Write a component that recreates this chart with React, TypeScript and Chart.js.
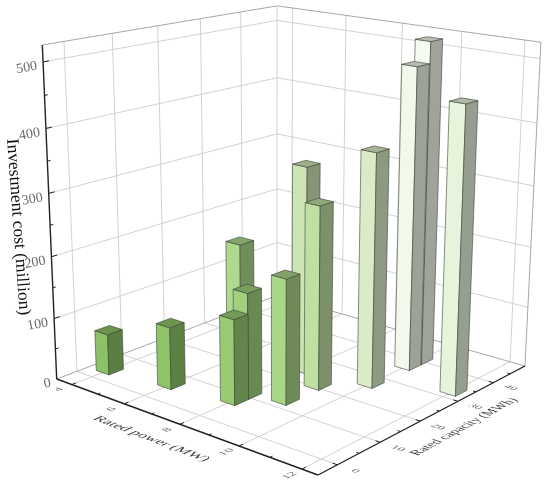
import React, { useEffect, useRef } from "react";
import { Chart, registerables } from "chart.js";

Chart.register(...registerables);

const power = [4, 6, 8, 8, 7, 9, 9, 8, 10, 10, 10, 12];
const capacity = [3.9, 6, 7.8, 10.9, 15.8, 13, 20.9, 24.9, 27, 37, 40.4, 33];
const cost = [67, 101, 137, 170, 222, 200, 295, 337, 375, 490, 524, 456];

const powerTicks = [4, 6, 8, 10, 12];
const powerMinor = [5, 7, 9, 11];
const capacityTicks = [0, 10, 20, 30, 40];
const capacityMinor = [5, 15, 25, 35, 45];
const costTicks = [0, 100, 200, 300, 400, 500];
const costMinor = [50, 150, 250, 350, 450];

const costStops = [0, 100, 200, 300, 375, 456, 500];
const stopColors = [
  [133, 188, 95],
  [143, 196, 105],
  [170, 215, 135],
  [192, 224, 163],
  [218, 235, 200],
  [231, 244, 220],
  [245, 251, 238],
];

const barPowerWidth = 0.5;
const barCapacityWidth = 3.2;

type Pt = [number, number];
const cornerO: Pt = [56.7, 379];
const cornerX: Pt = [318, 475];
const cornerXY: Pt = [525, 366];
const cornerY: Pt = [277, 295.5];
const vanish: Pt = [275, 5451];
const topLeftY = 45;

function makeProjection() {
  const dx1 = cornerX[0] - cornerXY[0];
  const dx2 = cornerY[0] - cornerXY[0];
  const sx = cornerO[0] - cornerX[0] + cornerXY[0] - cornerY[0];
  const dy1 = cornerX[1] - cornerXY[1];
  const dy2 = cornerY[1] - cornerXY[1];
  const sy = cornerO[1] - cornerX[1] + cornerXY[1] - cornerY[1];
  const det = dx1 * dy2 - dx2 * dy1;
  const g = (sx * dy2 - dx2 * sy) / det;
  const h = (dx1 * sy - sx * dy1) / det;
  const a = cornerX[0] - cornerO[0] + g * cornerX[0];
  const b = cornerY[0] - cornerO[0] + h * cornerY[0];
  const d = cornerX[1] - cornerO[1] + g * cornerX[1];
  const e = cornerY[1] - cornerO[1] + h * cornerY[1];
  const k = (topLeftY - cornerO[1]) / (vanish[1] - topLeftY);
  const m = vanish[0] * k;
  const n = vanish[1] * k;
  return (u: number, v: number, w: number): Pt => {
    const den = g * u + h * v + k * w + 1;
    return [
      (a * u + b * v + m * w + cornerO[0]) / den,
      (d * u + e * v + n * w + cornerO[1]) / den,
    ];
  };
}
const project = makeProjection();

function colorFor(c: number): number[] {
  let i = 0;
  while (i < costStops.length - 2 && c > costStops[i + 1]) i++;
  const t = Math.min(1, (c - costStops[i]) / (costStops[i + 1] - costStops[i]));
  return stopColors[i].map((s, j) => s + (stopColors[i + 1][j] - s) * t);
}
const rgb = (c: number[], f: number) =>
  `rgb(${Math.round(c[0] * f)},${Math.round(c[1] * f)},${Math.round(c[2] * f)})`;

function line(ctx: CanvasRenderingContext2D, a: Pt, b: Pt, color: string, width: number) {
  ctx.strokeStyle = color;
  ctx.lineWidth = width;
  ctx.beginPath();
  ctx.moveTo(a[0], a[1]);
  ctx.lineTo(b[0], b[1]);
  ctx.stroke();
}

function face(ctx: CanvasRenderingContext2D, pts: Pt[], fill: string) {
  ctx.fillStyle = fill;
  ctx.strokeStyle = "rgba(60,65,55,0.75)";
  ctx.lineWidth = 0.8;
  ctx.lineJoin = "round";
  ctx.beginPath();
  pts.forEach((p, i) => (i ? ctx.lineTo(p[0], p[1]) : ctx.moveTo(p[0], p[1])));
  ctx.closePath();
  ctx.fill();
  ctx.stroke();
}

function unit(a: Pt, b: Pt): Pt {
  const dx = b[0] - a[0];
  const dy = b[1] - a[1];
  const l = Math.hypot(dx, dy);
  return [dx / l, dy / l];
}

function planeText(
  ctx: CanvasRenderingContext2D,
  text: string,
  at: Pt,
  ex: Pt,
  ey: Pt,
  sx: number,
  sy: number,
  font: string,
  color: string
) {
  ctx.save();
  ctx.transform(ex[0] * sx, ex[1] * sx, ey[0] * sy, ey[1] * sy, at[0], at[1]);
  ctx.font = font;
  ctx.fillStyle = color;
  ctx.textAlign = "center";
  ctx.textBaseline = "middle";
  ctx.fillText(text, 0, 0);
  ctx.restore();
}

const scene = {
  id: "scene3d",
  beforeDatasetsDraw(chart: any) {
    const ctx: CanvasRenderingContext2D = chart.ctx;
    const decimal = (scale: any, val: number) => scale.getDecimalForPixel(scale.getPixelForValue(val));
    const U = (p: number) => decimal(chart.scales.x, p);
    const V = (c: number) => decimal(chart.scales.capacity, c);
    const W = (c: number) => decimal(chart.scales.y, c);

    ctx.save();
    ctx.fillStyle = "#fff";
    ctx.fillRect(0, 0, chart.width, chart.height);

    const grid = "#d2d2d2";
    const frame = "#a8a8a8";
    // floor grid
    powerTicks.forEach((p) => line(ctx, project(U(p), 0, 0), project(U(p), 1, 0), grid, 1));
    capacityTicks.forEach((c) => line(ctx, project(0, V(c), 0), project(1, V(c), 0), grid, 1));
    // walls grid
    capacityTicks.forEach((c) => line(ctx, project(0, V(c), 0), project(0, V(c), 1), grid, 1));
    powerTicks.forEach((p) => line(ctx, project(U(p), 1, 0), project(U(p), 1, 1), grid, 1));
    costTicks.slice(1).forEach((c) => {
      line(ctx, project(0, 0, W(c)), project(0, 1, W(c)), grid, 1);
      line(ctx, project(0, 1, W(c)), project(1, 1, W(c)), grid, 1);
    });
    // frame
    line(ctx, project(0, 0, 1), project(0, 1, 1), frame, 1);
    line(ctx, project(0, 1, 1), project(1, 1, 1), frame, 1);
    line(ctx, project(1, 1, 1), project(1, 1, 0), frame, 1);
    line(ctx, project(0, 1, 1), project(0, 1, 0), grid, 1);
    line(ctx, project(0, 0, 0), project(0, 1, 0), frame, 1);
    line(ctx, project(0, 1, 0), project(1, 1, 0), frame, 1);

    // axes
    const axis = "#222";
    line(ctx, project(0, 0, 0), project(0, 0, 1), axis, 1.4);
    line(ctx, project(0, 0, 0), project(1, 0, 0), axis, 1.4);
    line(ctx, project(1, 0, 0), project(1, 1, 0), axis, 1.4);
    costTicks.slice(1).forEach((c) => line(ctx, project(0, 0, W(c)), project(0, 0.022, W(c)), axis, 1));
    costMinor.forEach((c) => line(ctx, project(0, 0, W(c)), project(0, 0.012, W(c)), axis, 1));
    powerTicks.forEach((p) => line(ctx, project(U(p), 0, 0), project(U(p), 0.016, 0), axis, 1));
    powerMinor.forEach((p) => line(ctx, project(U(p), 0, 0), project(U(p), 0.01, 0), axis, 1));
    capacityTicks.forEach((c) => line(ctx, project(1, V(c), 0), project(0.984, V(c), 0), axis, 1));
    capacityMinor.forEach((c) => line(ctx, project(1, V(c), 0), project(0.99, V(c), 0), axis, 1));

    // tick labels
    const serif = "'Liberation Serif', serif";
    costTicks.forEach((c) => {
      const p = project(0, 0, W(c));
      ctx.save();
      ctx.translate(p[0] - 6, p[1] + 4);
      ctx.rotate((-10 * Math.PI) / 180);
      ctx.font = `14px ${serif}`;
      ctx.fillStyle = "#6a6a6a";
      ctx.textAlign = "right";
      ctx.textBaseline = "middle";
      ctx.fillText(String(c), 0, 0);
      ctx.restore();
    });
    powerTicks.forEach((p) => {
      const u = U(p);
      const at = project(u, -0.05, 0);
      planeText(ctx, String(p), at, unit(at, project(u, 0.05, 0)), unit(at, project(u + 0.1, -0.05, 0)), 1.3, 0.95, `10px ${serif}`, "#666");
    });
    capacityTicks.forEach((c) => {
      const v = V(c);
      const at = project(1.06, v, 0);
      planeText(ctx, String(c), at, unit(at, project(1.16, v, 0)), unit(at, project(1.06, v - 0.1, 0)), 1.2, 0.85, `10px ${serif}`, "#666");
    });

    // axis titles
    const pAt = project(0.515, -0.12, 0);
    planeText(ctx, "Rated power (MW)", pAt, unit(pAt, project(0.615, -0.12, 0)), unit(pAt, project(0.515, -0.22, 0)), 1.28, 1.1, `12px ${serif}`, "#3a3a3a");
    const cAt = project(1.115, 0.5, 0);
    planeText(ctx, "Rated capacity (MWh)", cAt, unit(cAt, project(1.115, 0.6, 0)), unit(cAt, project(1.215, 0.5, 0)), 1.05, 1.15, `12px ${serif}`, "#3a3a3a");
    planeText(ctx, "Investment cost (million)", [18, 227], unit([0, 0], [13, 181]), unit([0, 0], [-181, 13]), 1.0, 1.0, `17.5px ${serif}`, "#111");

    // bars, far ones first
    const order = power
      .map((p, i) => ({ i, u: U(p), v: V(capacity[i]) }))
      .sort((a, b) => b.v - b.u - (a.v - a.u));
    order.forEach(({ i }) => {
      const u0 = U(power[i] - barPowerWidth / 2);
      const u1 = U(power[i] + barPowerWidth / 2);
      const v0 = V(capacity[i] - barCapacityWidth / 2);
      const v1 = V(capacity[i] + barCapacityWidth / 2);
      const w = W(cost[i]);
      const col = colorFor(cost[i]);
      face(ctx, [project(u0, v0, 0), project(u1, v0, 0), project(u1, v0, w), project(u0, v0, w)], rgb(col, 1));
      face(ctx, [project(u1, v0, 0), project(u1, v1, 0), project(u1, v1, w), project(u1, v0, w)], rgb(col, 0.65));
      face(ctx, [project(u0, v0, w), project(u1, v0, w), project(u1, v1, w), project(u0, v1, w)], rgb(col, 0.76));
    });
    ctx.restore();
  },
};

export default function App() {
  const ref = useRef<HTMLCanvasElement>(null);
  useEffect(() => {
    document.body.style.margin = "0";
    const chart = new Chart(ref.current as HTMLCanvasElement, {
      type: "scatter",
      data: {
        datasets: [
          {
            label: "Investment cost (million)",
            data: power.map((p, i) => ({ x: p, y: cost[i], capacity: capacity[i] })),
            pointRadius: 0,
          },
        ],
      },
      options: {
        animation: false,
        responsive: false,
        layout: { padding: 0 },
        plugins: { legend: { display: false }, tooltip: { enabled: false } },
        scales: {
          x: { type: "linear", min: 3.4, max: 12.49, display: false },
          y: { type: "linear", min: 0, max: 525, display: false },
          capacity: { type: "linear", axis: "y", min: -4.3, max: 49.5, display: false },
        },
      },
      plugins: [scene],
    } as any);
    return () => chart.destroy();
  }, []);
  return (
    <div style={{ width: 550, height: 485 }}>
      <canvas ref={ref} width={550} height={485} style={{ display: "block", filter: "blur(0.35px)" }} />
    </div>
  );
}
